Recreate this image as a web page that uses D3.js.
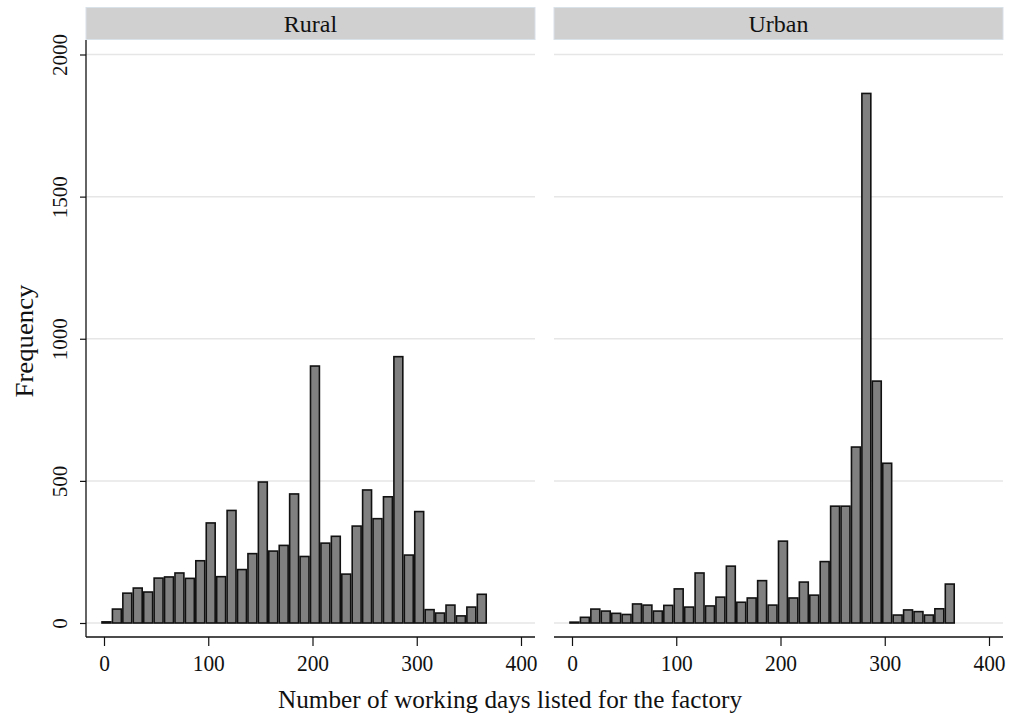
<!DOCTYPE html>
<html>
<head>
<meta charset="utf-8">
<script src="https://cdn.jsdelivr.net/npm/d3@7"></script>
<style>
  body { margin: 0; background: #fff; }
  text { font-family: "Liberation Serif", "Times New Roman", serif; fill: #111; }
</style>
</head>
<body>
<script>
// histogram bins: lower edge of each 10-day bin
const binLow = [-2.5, 7.5, 17.5, 27.5, 37.5, 47.5, 57.5, 67.5, 77.5, 87.5,
    97.5, 107.5, 117.5, 127.5, 137.5, 147.5, 157.5, 167.5, 177.5, 187.5,
    197.5, 207.5, 217.5, 227.5, 237.5, 247.5, 257.5, 267.5, 277.5, 287.5,
    297.5, 307.5, 317.5, 327.5, 337.5, 347.5, 357.5];
const binWidth = 10;

const rural = [4, 49, 105, 123, 109, 158, 162, 176, 157, 219,
    352, 163, 396, 188, 244, 496, 253, 273, 454, 234,
    904, 281, 305, 172, 341, 468, 367, 444, 937, 239,
    392, 47, 35, 63, 25, 56, 101];

const urban = [3, 20, 49, 42, 34, 30, 67, 63, 42, 62,
    120, 56, 176, 60, 91, 200, 73, 88, 149, 63,
    288, 88, 144, 98, 216, 411, 411, 619, 1863, 851,
    562, 28, 46, 40, 28, 50, 137];

const panels = ['Rural', 'Urban'];
const series = [rural, urban];
const xTicks = [0, 100, 200, 300, 400];
const yTicks = [0, 500, 1000, 1500, 2000];

const W = 1011, H = 719;
const panelLeft = [86, 554];
const panelW = 449;
const axisY = 637;
const plotTop = 40;

let svg = d3.select('body').append('svg')
    .attr('width', W)
    .attr('height', H);

let y = d3.scaleLinear().domain([0, 2000]).range([623, 54.5]);

// digit width used to squeeze labels like the original export
const labelLen = (s, per) => String(s).length * per;

panels.forEach((name, i) => {
    let left = panelLeft[i];
    let x = d3.scaleLinear().domain([0, 400]).range([left + 18, left + 18 + 417]);
    let g = svg.append('g');

    // grid
    g.selectAll('line.grid').data(yTicks).enter().append('line')
        .attr('class', 'grid')
        .attr('x1', left).attr('x2', left + panelW)
        .attr('y1', d => y(d)).attr('y2', d => y(d))
        .attr('stroke', '#e6e6e6')
        .attr('stroke-width', 1.5);

    // header strip
    g.append('rect')
        .attr('x', left).attr('y', 7.5)
        .attr('width', panelW).attr('height', 32)
        .attr('fill', '#d0d0d0')
        .attr('stroke', '#d9e1e9')
        .attr('stroke-width', 1);
    g.append('text')
        .attr('x', left + panelW / 2).attr('y', 31.5)
        .attr('text-anchor', 'middle')
        .attr('font-size', 24)
        .text(name);

    // bars
    g.selectAll('rect.bar').data(series[i]).enter().append('rect')
        .attr('class', 'bar')
        .attr('x', (d, j) => x(binLow[j]) + 0.6)
        .attr('width', (d, j) => x(binLow[j] + binWidth) - x(binLow[j]) - 1.5)
        .attr('y', d => y(d))
        .attr('height', d => y(0) - y(d))
        .attr('fill', '#808080')
        .attr('stroke', '#111')
        .attr('stroke-width', 1.6);

    // x axis
    let xa = g.append('g')
        .attr('transform', `translate(0,${axisY})`)
        .call(d3.axisBottom(x).tickValues(xTicks).tickSize(9).tickSizeOuter(0).tickFormat(d3.format('d')));
    xa.select('.domain').remove();
    xa.append('line')
        .attr('x1', left).attr('x2', left + panelW)
        .attr('stroke', '#111').attr('stroke-width', 1.3);
    xa.selectAll('.tick line').attr('stroke', '#111').attr('stroke-width', 1.2);
    xa.selectAll('.tick text')
        .attr('y', 34).attr('dy', null)
        .attr('font-size', 24)
        .attr('font-family', null)
        .attr('fill', '#111')
        .attr('textLength', d => labelLen(d, 10.7))
        .attr('lengthAdjust', 'spacingAndGlyphs');
});

// y axis on the left panel only
let ya = svg.append('g')
    .attr('transform', `translate(${panelLeft[0]},0)`)
    .call(d3.axisLeft(y).tickValues(yTicks).tickSize(6).tickSizeOuter(0).tickFormat(d3.format('d')));
ya.select('.domain').remove();
ya.append('line')
    .attr('y1', plotTop).attr('y2', axisY)
    .attr('stroke', '#111').attr('stroke-width', 1.3);
ya.selectAll('.tick line').attr('stroke', '#111').attr('stroke-width', 1.2);
ya.selectAll('.tick text')
    .attr('x', null).attr('dy', null)
    .attr('transform', 'translate(-19,0) rotate(-90)')
    .attr('text-anchor', 'middle')
    .attr('font-size', 21)
    .attr('font-family', null)
    .attr('fill', '#111')
    .attr('textLength', d => labelLen(d, 10.5))
    .attr('lengthAdjust', 'spacingAndGlyphs');

// axis titles
svg.append('text')
    .attr('transform', 'translate(33,341) rotate(-90)')
    .attr('text-anchor', 'middle')
    .attr('font-size', 25)
    .attr('textLength', 113)
    .attr('lengthAdjust', 'spacingAndGlyphs')
    .text('Frequency');

svg.append('text')
    .attr('x', 510).attr('y', 708)
    .attr('text-anchor', 'middle')
    .attr('font-size', 25)
    .attr('textLength', 464)
    .attr('lengthAdjust', 'spacingAndGlyphs')
    .text('Number of working days listed for the factory');
</script>
</body>
</html>
